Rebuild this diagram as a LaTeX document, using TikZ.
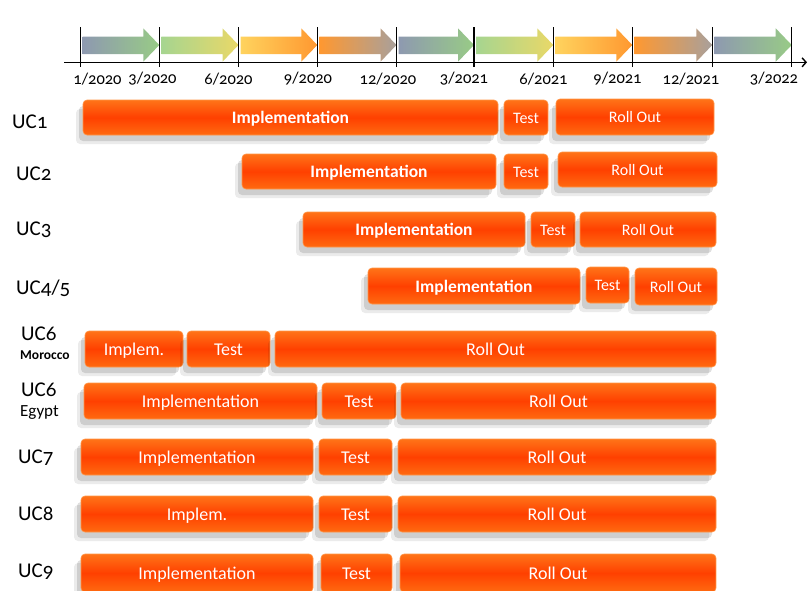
\documentclass[tikz,border=0pt]{standalone}
\usepackage{fontspec}
\setmainfont{Carlito}[Numbers=OldStyle]
\usetikzlibrary{shadows,arrows.meta}
\definecolor{barT}{HTML}{FF7418}
\definecolor{barM}{HTML}{FF4000}
\definecolor{barB}{HTML}{FF6A10}
\definecolor{barE}{HTML}{FF9548}
\definecolor{cgb}{HTML}{8E99B0}
\definecolor{cgr}{HTML}{98CB86}
\definecolor{clg}{HTML}{A6D590}
\definecolor{cye}{HTML}{E9D868}
\definecolor{cyl}{HTML}{FFD35E}
\definecolor{cor}{HTML}{FF9830}
\definecolor{cgy}{HTML}{A8A09C}
\tikzset{
  barbox/.style={rounded corners=4pt, draw=barE, line width=0.6pt,
    top color=barT, bottom color=barB, middle color=barM,
    text=white, inner sep=0pt, font=\fontsize{18}{18}\selectfont,
    text height=12pt, text depth=0pt,
    drop shadow={shadow xshift=-7pt, shadow yshift=-9pt, opacity=0.08, fill=black, draw=none},
    drop shadow={shadow xshift=-4pt, shadow yshift=-6pt, opacity=0.12, fill=black, draw=none}},
  bigtxt/.style={font=\fontsize{17.5}{17.5}\selectfont\bfseries},
  smtxt/.style={font=\fontsize{16}{16}\selectfont, text height=11pt},
  uclabel/.style={anchor=west, inner sep=0pt, font=\fontsize{21}{21}\selectfont},
  sublabel/.style={anchor=west, inner sep=0pt},
  ticklabel/.style={font=\fontsize{16.5}{16.5}\selectfont, inner sep=0pt},
  tickline/.style={line width=1.1pt, black},
  axisline/.style={line width=1.4pt, black}
}
\newcommand\mybar[7][]{%
  \node[barbox,#1,minimum width={#4-#3},minimum height={#6-#5}] (#2) at ({(#3+#4)/2},{(#5+#6)/2}) {#7};}
\begin{document}
\begin{tikzpicture}[x=1pt,y=-1pt]
\useasboundingbox (0,0) rectangle (808,590);
% timeline arrows
\foreach \a/\b/\ca/\cb in {80.7/159.3/cgb/cgr, 159.3/238.5/clg/cye, 238.5/317.3/cyl/cor, 317.3/396.5/cor/cgy,
  396.5/474/cgb/cgr, 474/553.3/clg/cye, 553.3/632.3/cyl/cor, 632.3/712.3/cor/cgy, 712.3/791.7/cgb/cgr}{
  \shade[left color=\ca, right color=\cb] (\a+2,36.5) -- (\b-16,36.5) -- (\b-16,28.3) -- (\b,45) -- (\b-16,61.7) -- (\b-16,54) -- (\a+2,54) -- cycle;
}
\coordinate (axs) at (64,62.3);
\coordinate (axe) at (807,62.3);
\draw[axisline,-{Straight Barb[length=4pt,width=9pt]}] (axs) -- (axe);
\foreach \x/\lx/\t [count=\i] in {80.7/97.5/1\slash 2020, 159.3/152.5/3\slash 2020, 238.5/228.5/6\slash 2020, 317.3/308/9\slash 2020, 396.5/388/12\slash 2020,
  474/464/3\slash 2021, 553.3/543.5/6\slash 2021, 632.3/617.5/9\slash 2021, 712.3/691/12\slash 2021, 791.7/774/3\slash 2022}{
  \coordinate (tt\i) at (\x,27);
  \coordinate (tb\i) at (\x,67);
  \draw[tickline] (tt\i) -- (tb\i);
  \node[ticklabel] (tl\i) at (\lx,79) {\t};
}
% row labels
\node[uclabel] (uc1) at (12,122) {UC1};
\node[uclabel] (uc2) at (16,174) {UC2};
\node[uclabel] (uc3) at (16,230) {UC3};
\node[uclabel] (uc45) at (16,288) {UC4/5};
\node[uclabel] (uc6m) at (21,334) {UC6};
\node[sublabel,font=\fontsize{13.5}{13.5}\selectfont\bfseries] (mor) at (20,355) {Morocco};
\node[uclabel] (uc6e) at (21,390) {UC6};
\node[sublabel,font=\fontsize{17}{17}\selectfont] (egy) at (20,412) {Egypt};
\node[uclabel] (uc7) at (18,458) {UC7};
\node[uclabel] (uc8) at (18,514) {UC8};
\node[uclabel] (uc9) at (18,572) {UC9};
% bars
\mybar[bigtxt]{i1}{83}{498}{100}{135}{Implementation}
\mybar[smtxt]{t1}{504}{548}{100}{135}{Test}
\mybar[smtxt]{r1}{556}{714}{99}{135}{Roll Out}
\mybar[bigtxt]{i2}{242}{496}{154}{189}{Implementation}
\mybar[smtxt]{t2}{504}{548}{154}{189}{Test}
\mybar[smtxt]{r2}{558}{717}{152}{187}{Roll Out}
\mybar[bigtxt]{i3}{303}{525}{212}{247}{Implementation}
\mybar[smtxt]{t3}{531}{575}{212}{247}{Test}
\mybar[smtxt]{r3}{580}{716}{212}{247}{Roll Out}
\mybar[bigtxt]{i4}{368}{580}{268}{304}{Implementation}
\mybar[smtxt]{t4}{586}{629}{267}{303}{Test}
\mybar[smtxt]{r4}{635}{717}{268}{305}{Roll Out}
\mybar{i5}{85}{183}{331}{367}{Implem.}
\mybar{t5}{187}{270}{331}{367}{Test}
\mybar{r5}{275}{716}{331}{367}{Roll Out}
\mybar{i6}{84}{317}{383}{419}{Implementation}
\mybar{t6}{322}{396}{383}{419}{Test}
\mybar{r6}{401}{716}{383}{419}{Roll Out}
\mybar{i7}{81}{313}{439}{475}{Implementation}
\mybar{t7}{319}{392}{439}{475}{Test}
\mybar{r7}{398}{716}{439}{475}{Roll Out}
\mybar{i8}{81}{313}{496}{532}{Implem.}
\mybar{t8}{319}{392}{496}{532}{Test}
\mybar{r8}{398}{716}{496}{532}{Roll Out}
\mybar{i9}{81}{313}{554}{592}{Implementation}
\mybar{t9}{321}{392}{554}{592}{Test}
\mybar{r9}{400}{716}{554}{592}{Roll Out}
\end{tikzpicture}
\end{document}
